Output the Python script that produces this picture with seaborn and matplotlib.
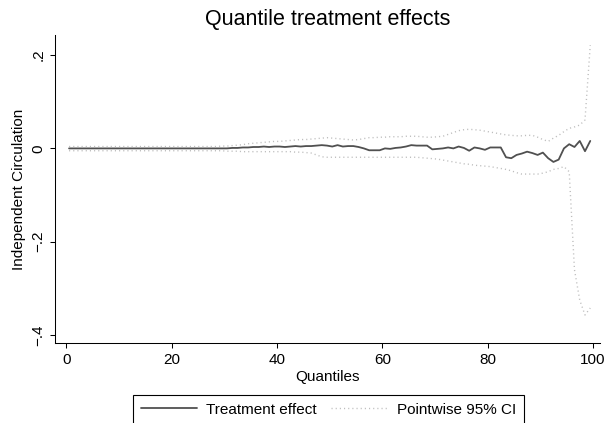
import numpy as np
import pandas as pd
import matplotlib
matplotlib.use("Agg")
import matplotlib.pyplot as plt
import seaborn as sns

# quantile grid (100 points, midpoints)
quantiles = [i + 0.5 for i in range(100)]

# treatment effect
effect = ([0.0] * 30 +
          [0.000, 0.001, 0.001, 0.002, 0.002, 0.003, 0.003, 0.004, 0.003, 0.004,
           0.004, 0.003, 0.004, 0.005, 0.004, 0.005, 0.005, 0.006, 0.007, 0.006,
           0.004, 0.007, 0.004, 0.005, 0.005, 0.003, 0.000, -0.004, -0.004, -0.004,
           0.000, -0.001, 0.001, 0.002, 0.004, 0.007, 0.006, 0.006, 0.006, -0.002,
           -0.001, 0.000, 0.002, 0.000, 0.004, 0.001, -0.005, 0.002, 0.000, -0.003,
           0.002, 0.002, 0.002, -0.019, -0.021, -0.014, -0.011, -0.007, -0.010, -0.014,
           -0.009, -0.021, -0.029, -0.024, 0.000, 0.009, 0.003, 0.016, -0.006, 0.016])

# pointwise 95% CI
upper = ([0.004] * 29 +
         [0.005, 0.005, 0.006, 0.007, 0.008, 0.010, 0.011, 0.012, 0.013, 0.014, 0.015,
          0.015, 0.016, 0.017, 0.018, 0.019, 0.019, 0.020, 0.021, 0.022, 0.023,
          0.022, 0.021, 0.020, 0.019, 0.018, 0.019, 0.021, 0.023, 0.023, 0.024,
          0.024, 0.025, 0.025, 0.025, 0.026, 0.026, 0.026, 0.025, 0.024, 0.024,
          0.025, 0.026, 0.030, 0.034, 0.038, 0.040, 0.041, 0.040, 0.039, 0.037,
          0.035, 0.033, 0.031, 0.029, 0.028, 0.027, 0.027, 0.028, 0.028, 0.024,
          0.019, 0.015, 0.022, 0.028, 0.036, 0.043, 0.046, 0.050, 0.061, 0.221])

lower = ([-0.005] * 30 +
         [-0.006, -0.006, -0.006, -0.007, -0.007, -0.007, -0.007, -0.007, -0.007, -0.007,
          -0.007, -0.007, -0.007, -0.008, -0.008, -0.009, -0.010, -0.014, -0.018, -0.019,
          -0.019, -0.019, -0.019, -0.019, -0.019, -0.019, -0.019, -0.019, -0.019, -0.019,
          -0.019, -0.019, -0.019, -0.019, -0.019, -0.019, -0.019, -0.020, -0.021, -0.022,
          -0.023, -0.025, -0.027, -0.029, -0.031, -0.033, -0.034, -0.036, -0.037, -0.038,
          -0.039, -0.041, -0.043, -0.045, -0.048, -0.052, -0.055, -0.055, -0.055, -0.055,
          -0.053, -0.050, -0.045, -0.043, -0.039, -0.050, -0.260, -0.325, -0.357, -0.342])

xticks = [0, 20, 40, 60, 80, 100]
yticks = [-0.4, -0.2, 0, 0.2]
ytick_labels = ["\u2212.4", "\u2212.2", "0", ".2"]

df = pd.DataFrame({"q": quantiles, "effect": effect, "upper": upper, "lower": lower})

sns.set_style("ticks")
plt.rcParams['font.family'] = ['Liberation Sans', 'DejaVu Sans']
plt.rcParams['text.color'] = 'black'
plt.rcParams['axes.labelcolor'] = 'black'
plt.rcParams['xtick.color'] = 'black'
plt.rcParams['ytick.color'] = 'black'

W, H = 615, 423
fig = plt.figure(figsize=(W / 100, H / 100), dpi=100)
ax = fig.add_axes([55 / W, 1 - 343 / H, 545 / W, (343 - 35) / H])

dot = (0, (0.8, 2.2))
sns.lineplot(data=df, x="q", y="effect", ax=ax, color="#505050", lw=1.3,
             label="Treatment effect")
sns.lineplot(data=df, x="q", y="upper", ax=ax, color="#bdbdbd", lw=1.0,
             linestyle=dot, label="Pointwise 95% CI")
sns.lineplot(data=df, x="q", y="lower", ax=ax, color="#bdbdbd", lw=1.0,
             linestyle=dot, label="_nolegend_")

ax.set_xlim(-2.17, 101.35)
ax.set_ylim(-0.417, 0.243)
ax.set_xticks(xticks)
ax.set_yticks(yticks)
ax.set_yticklabels(ytick_labels, rotation=90, va="center")
ax.tick_params(axis="both", length=3.6, width=0.75, labelsize=11, pad=3.5, color="black")
ax.set_xlabel("Quantiles", fontsize=11, labelpad=2)
ax.set_ylabel("Independent Circulation", fontsize=11, labelpad=4)
for s in ["top", "right"]:
    ax.spines[s].set_visible(False)
for s in ["left", "bottom"]:
    ax.spines[s].set_color("black")
    ax.spines[s].set_linewidth(0.75)

fig.text(327.5 / W, 1 - 20 / H, "Quantile treatment effects", ha="center", va="center", fontsize=15.5)

handles, labels = ax.get_legend_handles_labels()
if ax.get_legend() is not None:
    ax.get_legend().remove()
leg = fig.legend(handles, labels, loc="upper left", bbox_to_anchor=(133 / W, 1 - 395 / H),
                 borderaxespad=0, ncol=2, frameon=True, fancybox=False, edgecolor="black",
                 framealpha=1, handlelength=3.7, handletextpad=0.6, columnspacing=0.95,
                 borderpad=0.5, fontsize=11)
leg.get_frame().set_linewidth(0.8)

fig.savefig("out.png", dpi=100)
